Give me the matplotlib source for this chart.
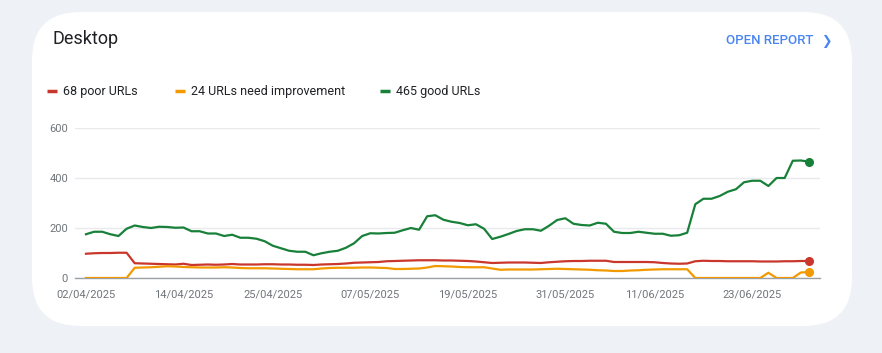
import matplotlib
matplotlib.use("Agg")
import matplotlib.pyplot as plt
import matplotlib.dates as mdates
from matplotlib.patches import FancyBboxPatch
import pandas as pd

plt.rcParams['font.family'] = ['Roboto', 'DejaVu Sans']

dates = pd.date_range("2025-04-02", "2025-06-30", freq="D")

poor = [97, 99, 100, 100, 101, 101, 59, 58, 57, 56, 55, 54, 57, 52, 53, 54,
        53, 54, 56, 54, 54, 54, 55, 55, 54, 54, 53, 53, 52, 54, 55,
        56, 58, 61, 62, 63, 64, 67, 68, 69, 70, 71, 71, 71, 70, 70, 69,
        68, 66, 63, 60, 61, 62, 62, 62, 61, 60, 63, 65, 67, 68, 68,
        69, 69, 69, 64, 64, 64, 64, 64, 63, 60, 58, 57, 58, 67, 69,
        68, 68, 67, 67, 67, 67, 66, 66, 66, 67, 67, 68, 68]

need_improvement = [0, 0, 0, 0, 0, 0, 41, 42, 43, 45, 47, 46, 44, 43, 42, 42,
                    42, 43, 42, 40, 39, 39, 39, 38, 37, 36, 35, 35, 35, 38, 40,
                    41, 41, 41, 42, 42, 41, 40, 36, 36, 37, 38, 42, 48, 47, 46, 44,
                    43, 43, 43, 38, 33, 34, 34, 34, 34, 35, 36, 37, 36, 35, 34,
                    33, 31, 30, 28, 28, 30, 31, 33, 34, 35, 35, 35, 35, 0,
                    0, 0, 0, 0, 0, 0, 0, 0, 21, 0, 0, 0, 22, 24]

good = [175, 185, 185, 175, 168, 197, 210, 204, 200, 205, 204, 201, 202, 187, 187, 178,
        178, 168, 173, 161, 161, 157, 147, 129, 119, 109, 105, 105, 91, 99, 105,
        109, 121, 139, 168, 179, 178, 180, 181, 191, 200, 193, 247, 251, 233, 225, 220,
        211, 215, 197, 156, 165, 176, 188, 195, 195, 189, 209, 232, 239, 217, 212,
        210, 221, 217, 185, 180, 180, 185, 181, 177, 177, 169, 171, 181, 295,
        317, 317, 328, 345, 355, 383, 389, 389, 368, 400, 400, 469, 470, 465]

legend_labels = ["68 poor URLs", "24 URLs need improvement", "465 good URLs"]
tick_dates = ["2025-04-02", "2025-04-14", "2025-04-25", "2025-05-07",
              "2025-05-19", "2025-05-31", "2025-06-11", "2025-06-23"]
y_ticks = [0, 200, 400, 600]

RED = "#c9372c"
ORANGE = "#f29900"
GREEN = "#188038"
BG = "#eef1f6"

W, H = 882, 353
fig = plt.figure(figsize=(W / 100, H / 100), dpi=100)
fig.patch.set_facecolor(BG)

# card
card = FancyBboxPatch((32 / W, (H - 326) / H), (852 - 32) / W, (326 - 12) / H,
                      boxstyle="round,pad=0,rounding_size=0.055",
                      transform=fig.transFigure, facecolor="white",
                      edgecolor="none", mutation_aspect=W / H, zorder=-10)
fig.patches.append(card)

fig.text(53 / W, 1 - 39 / H, "Desktop", fontsize=13, color="#202124",
         va="center", ha="left")
fig.text(813 / W, 1 - 41 / H, "OPEN REPORT", fontsize=9.5, color="#4a86f0",
         va="center", ha="right", fontweight="medium")
fig.text(821 / W, 1 - 41 / H, "\u276F", fontsize=9, color="#4a86f0",
         va="center", ha="left", family=['DejaVu Sans'])

# legend
leg_items = [(47, RED, legend_labels[0]), (175, ORANGE, legend_labels[1]),
             (380, GREEN, legend_labels[2])]
for x0, col, lab in leg_items:
    fig.lines.append(plt.Line2D([x0 / W, (x0 + 10) / W], [1 - 91 / H, 1 - 91 / H],
                                transform=fig.transFigure, color=col, lw=2.5,
                                solid_capstyle="butt"))
    fig.text((x0 + 16) / W, 1 - 91 / H, lab, fontsize=9, color="#202124",
             va="center", ha="left")

ax = fig.add_axes([75 / W, (H - 278) / H, (820 - 75) / W, 150 / H])
ax.set_zorder(5)
ax.patch.set_alpha(0)
ax.plot(dates, poor, color=RED, lw=1.6, zorder=3)
ax.plot(dates, need_improvement, color=ORANGE, lw=1.6, zorder=3)
ax.plot(dates, good, color=GREEN, lw=1.6, zorder=3)
for series, col in [(poor, RED), (need_improvement, ORANGE), (good, GREEN)]:
    ax.plot([dates[-1]], [series[-1]], "o", color=col, ms=5.5, zorder=4,
            clip_on=False)

x0 = dates[0] - pd.Timedelta(days=1.35)
x1 = dates[-1] + pd.Timedelta(days=1.35)
ax.set_xlim(x0, x1)
ax.set_ylim(0, 600)
ax.set_yticks(y_ticks)
ax.set_xticks(pd.to_datetime(tick_dates))
ax.xaxis.set_major_formatter(mdates.DateFormatter("%d/%m/%Y"))
ax.tick_params(axis="both", length=0, labelsize=8, colors="#70757a")
ax.tick_params(axis="x", pad=8)
ax.tick_params(axis="y", pad=5)
ax.grid(axis="y", color="#e8eaed", lw=1)
ax.set_axisbelow(True)
for s in ["top", "right", "left"]:
    ax.spines[s].set_visible(False)
ax.spines["bottom"].set_color("#9aa0a6")
ax.spines["bottom"].set_linewidth(1)

fig.savefig("out.png", dpi=100, facecolor=BG)
